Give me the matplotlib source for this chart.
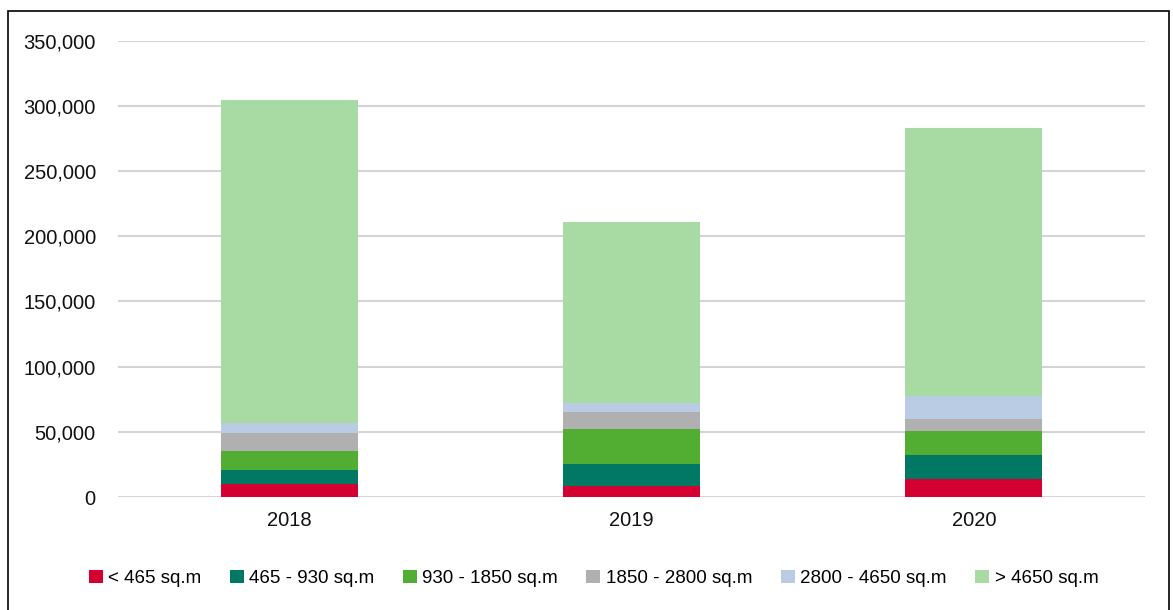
import numpy as np
import matplotlib.pyplot as plt
from matplotlib.patches import Rectangle
from matplotlib.ticker import FuncFormatter

# values
years = ['2018', '2019', '2020']
size_bands = ['< 465 sq.m', '465 - 930 sq.m', '930 - 1850 sq.m',
              '1850 - 2800 sq.m', '2800 - 4650 sq.m', '> 4650 sq.m']
band_lt_465 = [10000, 8100, 13800]
band_465_930 = [10400, 17200, 18200]
band_930_1850 = [15100, 26600, 18900]
band_1850_2800 = [13300, 13000, 9200]
band_2800_4650 = [8000, 7200, 17400]
band_gt_4650 = [247800, 139100, 205600]

series = [band_lt_465, band_465_930, band_930_1850,
          band_1850_2800, band_2800_4650, band_gt_4650]
colors = ['#D50032', '#007864', '#52AE32', '#B0B0B0', '#B9CCE4', '#A8DBA4']

plt.rcParams['font.family'] = ['Liberation Sans', 'DejaVu Sans']

fig = plt.figure(figsize=(11.73, 6.10), dpi=100)
ax = fig.add_axes([0.1006, 0.1852, 0.8755, 0.7484])

x = np.arange(len(years))
bottom = np.zeros(len(years))
for name, vals, col in zip(size_bands, series, colors):
    ax.bar(x, vals, width=0.4, bottom=bottom, color=col, label=name, zorder=3)
    bottom += np.array(vals)

ax.set_xlim(-0.5, 2.5)
ax.set_ylim(0, 350000)
ax.set_yticks(np.arange(0, 350001, 50000))
ax.yaxis.set_major_formatter(FuncFormatter(lambda v, p: f'{int(v):,}'))
ax.set_xticks(x)
ax.set_xticklabels(years)
ax.tick_params(axis='both', length=0, labelsize=14.5, colors='#111111')
ax.tick_params(axis='y', pad=16)
ax.tick_params(axis='x', pad=10)
ax.grid(axis='y', color='#D4D4D4', linewidth=1.5, zorder=0)
for s in ax.spines.values():
    s.set_visible(False)

fig.legend(loc='center', bbox_to_anchor=(0.506, 0.052), ncol=6, frameon=False,
           fontsize=13.5, handlelength=0.75, handleheight=0.75,
           handletextpad=0.3, columnspacing=1.5)

# outer frame
fig.patches.append(Rectangle((0.007, -0.01), 0.99, 0.992, transform=fig.transFigure,
                             fill=False, edgecolor='black', linewidth=1.2))

fig.savefig('out.png', dpi=100)
